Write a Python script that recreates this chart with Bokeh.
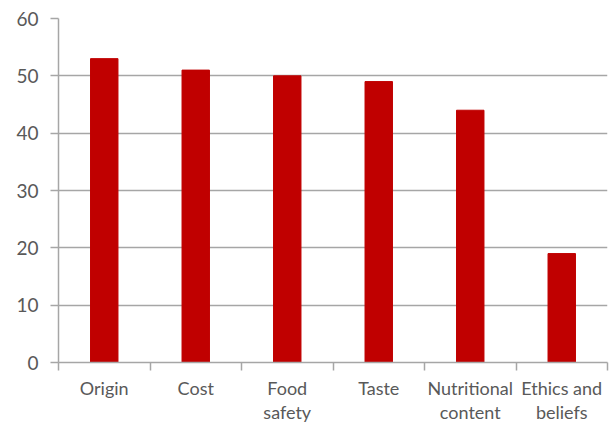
from bokeh.plotting import figure
from bokeh.models import ColumnDataSource, FixedTicker, Range1d
from bokeh.embed import file_html
from bokeh.resources import INLINE

categories = ["Origin", "Cost", "Food\nsafety", "Taste", "Nutritional\ncontent", "Ethics and\nbeliefs"]
values = [53, 51, 50, 49, 44, 19]
y_ticks = [0, 10, 20, 30, 40, 50, 60]

xs = [i + 0.5 for i in range(len(categories))]
src = ColumnDataSource(dict(x=xs, top=values))

FONT = "Lato"
GREY = "#A6A6A6"
TXT = "#595959"

p = figure(width=615, height=425, output_backend="svg", toolbar_location=None,
           x_range=Range1d(0, len(categories)), y_range=Range1d(0, 60),
           min_border_left=58, min_border_top=18, min_border_right=8, min_border_bottom=63)
p.outline_line_color = None
p.vbar(x="x", top="top", width=0.3, bottom=0, source=src, fill_color="#C00000", line_color="#C00000")

# x axis
p.xaxis.ticker = FixedTicker(ticks=xs, minor_ticks=list(range(len(categories) + 1)))
p.xaxis.major_label_overrides = {x: c for x, c in zip(xs, categories)}
p.xaxis.major_tick_out = 0
p.xaxis.major_tick_in = 0
p.xaxis.minor_tick_out = 8
p.xaxis.minor_tick_in = 0
p.xaxis.minor_tick_line_color = GREY
p.xaxis.minor_tick_line_width = 1.5
p.xaxis.axis_line_color = GREY
p.xaxis.axis_line_width = 1.5
p.xaxis.major_label_standoff = 6
p.xaxis.major_label_text_font = FONT
p.xaxis.major_label_text_font_size = "18px"
p.xaxis.major_label_text_color = TXT
p.xaxis.major_label_text_line_height = 1.1
p.xaxis.major_label_orientation = "horizontal"

# y axis
p.yaxis.ticker = FixedTicker(ticks=y_ticks)
p.yaxis.major_tick_out = 8
p.yaxis.major_tick_in = 0
p.yaxis.minor_tick_out = 0
p.yaxis.minor_tick_in = 0
p.yaxis.major_tick_line_color = GREY
p.yaxis.major_tick_line_width = 1.5
p.yaxis.axis_line_color = GREY
p.yaxis.axis_line_width = 1.5
p.yaxis.major_label_standoff = 12
p.yaxis.major_label_text_font = FONT
p.yaxis.major_label_text_font_size = "19px"
p.yaxis.major_label_text_color = TXT

p.xgrid.grid_line_color = None
p.ygrid.ticker = FixedTicker(ticks=y_ticks)
p.ygrid.grid_line_color = GREY
p.ygrid.grid_line_width = 1.5

open("out.html", "w").write(file_html(p, INLINE))
